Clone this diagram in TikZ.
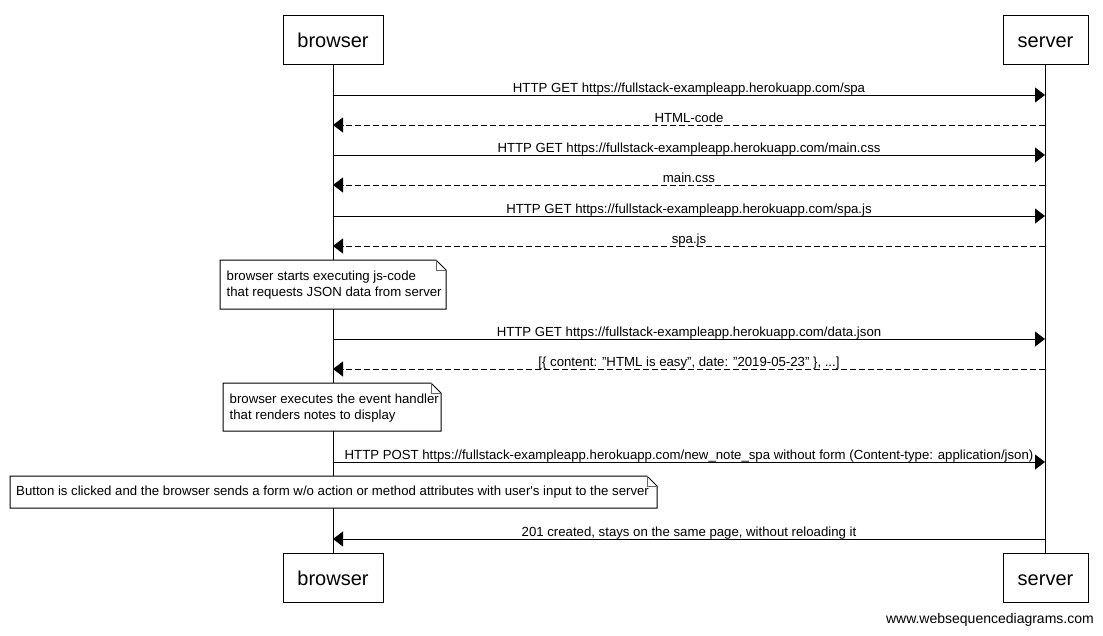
\documentclass[tikz,border=0pt]{standalone}
\usepackage{fontspec}
\setmainfont{Liberation Sans}
\usetikzlibrary{arrows.meta}
\begin{document}
\begin{tikzpicture}[x=1pt,y=-1pt,
  actor/.style={draw, line width=1pt, fill=white, minimum width=100pt, minimum height=49pt, inner sep=0pt, text height=17pt, text depth=2pt, font=\fontsize{20}{24}\selectfont},
  msg/.style={-{Triangle[length=10pt,width=15pt]}, line width=1pt},
  reply/.style={msg, dash pattern=on 6pt off 3pt},
  lbl/.style={anchor=base, yshift=3pt, inner sep=0pt, font=\fontsize{13.2}{15}\selectfont},
  notetext/.style={anchor=west, align=left, inner sep=0pt, font=\fontsize{13.2}{15.5}\selectfont},
  notedraw/.style={draw, line width=1pt, fill=white},
  fold/.style={draw=black!60, line width=0.8pt},
  lifeline/.style={line width=1pt}]
\useasboundingbox (0,0) rectangle (1103,635);
% actors
\node[actor] (b1) at (333,39.5) {browser};
\node[actor, minimum width=85pt] (s1) at (1045.5,39.5) {server};
\node[actor] (b2) at (333,577.5) {browser};
\node[actor, minimum width=85pt] (s2) at (1045.5,577.5) {server};
\draw[lifeline] (b1) -- (b2);
\draw[lifeline] (s1) -- (s2);
% message endpoints
\foreach \n/\y in {1/95,2/125,3/155,4/185,5/216,6/246,8/339,9/369,11/462,13/539}{
  \coordinate (mb\n) at (333,\y);
  \coordinate (ms\n) at (1045,\y);
}
\draw[msg] (mb1) -- node[lbl]{HTTP GET https://fullstack-exampleapp.herokuapp.com/spa} (ms1);
\draw[reply] (ms2) -- node[lbl]{HTML-code} (mb2);
\draw[msg] (mb3) -- node[lbl]{HTTP GET https://fullstack-exampleapp.herokuapp.com/main.css} (ms3);
\draw[reply] (ms4) -- node[lbl]{main.css} (mb4);
\draw[msg] (mb5) -- node[lbl]{HTTP GET https://fullstack-exampleapp.herokuapp.com/spa.js} (ms5);
\draw[reply] (ms6) -- node[lbl]{spa.js} (mb6);
\draw[msg] (mb8) -- node[lbl]{HTTP GET https://fullstack-exampleapp.herokuapp.com/data.json} (ms8);
\draw[reply] (ms9) -- node[lbl]{[\{ content: "HTML is easy", date: "2019-05-23" \}, ...]} (mb9);
\draw[msg] (mb11) -- node[lbl]{HTTP POST https://fullstack-exampleapp.herokuapp.com/new\_note\_spa without form (Content-type: application/json)} (ms11);
\draw[msg] (ms13) -- node[lbl]{201 created, stays on the same page, without reloading it} (mb13);
% notes: outlines
\foreach \xa/\ya/\xb/\yb in {220/260/446/309, 223/383/441/431, 10/476/657/508}{
  \draw[notedraw] (\xa,\ya) -- (\xb-10,\ya) -- (\xb,\ya+10) -- (\xb,\yb) -- (\xa,\yb) -- cycle;
  \draw[fold] (\xb-10,\ya) -- (\xb-10,\ya+10) -- (\xb,\ya+10);
}
\node[notetext] (n1) at (226.5,285) {browser starts executing js-code\\that requests JSON data from server};
\node[notetext] (n2) at (229.5,408) {browser executes the event handler\\that renders notes to display};
\node[notetext] (n3) at (16,492) {Button is clicked and the browser sends a form w/o action or method attributes with user\textquotesingle s input to the server};
% footer
\node[anchor=east, inner sep=0pt, font=\fontsize{14}{16}\selectfont] (foot) at (1094,620) {www.websequencediagrams.com};
\end{tikzpicture}
\end{document}
